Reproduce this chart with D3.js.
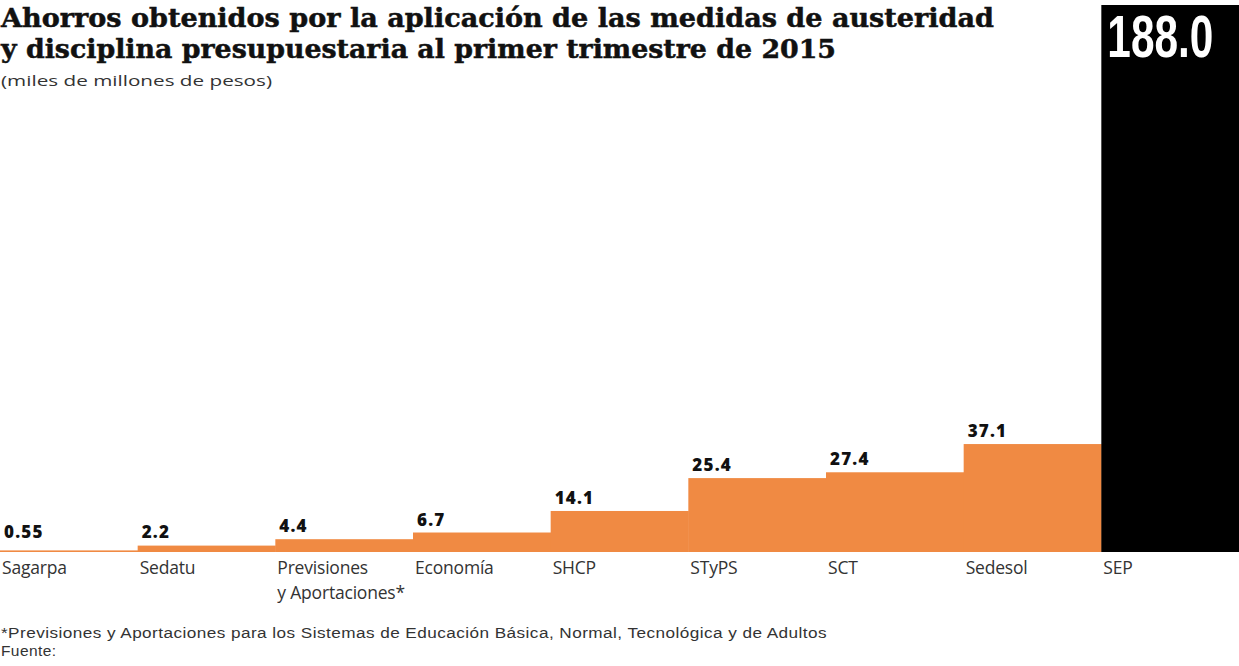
<!DOCTYPE html>
<html><head><meta charset="utf-8">
<script src="https://cdn.jsdelivr.net/npm/d3@7"></script>
<style>html,body{margin:0;padding:0;background:#fff;}svg{display:block;}</style>
</head><body>
<svg id="c" width="1239" height="666"></svg>
<script>
const categories = ["Sagarpa","Sedatu","Previsiones|y Aportaciones*","Economía","SHCP","STyPS","SCT","Sedesol","SEP"];
const values = [0.55, 2.2, 4.4, 6.7, 14.1, 25.4, 27.4, 37.1, 188.0];
const valueLabels = ["0.55","2.2","4.4","6.7","14.1","25.4","27.4","37.1","188.0"];
const titleLines = ["Ahorros obtenidos por la aplicación de las medidas de austeridad","y disciplina presupuestaria al primer trimestre de 2015"];
const subtitle = "(miles de millones de pesos)";
const footnotes = ["*Previsiones y Aportaciones para los Sistemas de Educación Básica, Normal, Tecnológica y de Adultos","Fuente:"];

const W = 1239, H = 666;
const svg = d3.select("#c");
const x = d3.scaleBand().domain(categories).range([0, W]).padding(0);
const y = d3.scaleLinear().domain([0, 188]).range([552, 5]);

// title
svg.selectAll("text.title").data(titleLines).join("text")
  .attr("class","title")
  .attr("x", 1).attr("y", (d,i)=> 27 + i*31)
  .attr("font-family","DejaVu Serif").attr("font-weight","bold").attr("font-size",26)
  .attr("fill","#111").attr("stroke","#111").attr("stroke-width",0.5)
  .attr("textLength",(d,i)=> i===0 ? 993 : 835).attr("lengthAdjust","spacingAndGlyphs")
  .text(d=>d);
svg.append("text").attr("x",1).attr("y",86)
  .attr("font-family","Open Sans").attr("font-size",15).attr("fill","#333")
  .attr("textLength",271).attr("lengthAdjust","spacingAndGlyphs")
  .text(subtitle);

// bars
svg.selectAll("rect.bar").data(categories).join("rect")
  .attr("class","bar")
  .attr("x", d=>x(d)).attr("width", x.bandwidth()+0.5)
  .attr("y", (d,i)=>y(values[i])).attr("height",(d,i)=>y(0)-y(values[i]))
  .attr("fill",(d,i)=> i===8 ? "#000" : "#F08A43");

// value labels
svg.selectAll("text.val").data(categories.slice(0,8)).join("text")
  .attr("class","val")
  .attr("x", d=>x(d)+4).attr("y",(d,i)=>Math.min(y(values[i])-7, 538))
  .attr("font-family","Open Sans").attr("font-weight",800).attr("font-size",17)
  .attr("fill","#111").attr("letter-spacing",1.2)
  .text((d,i)=>valueLabels[i]);
const big = svg.append("text")
  .attr("x",0).attr("y",0)
  .attr("font-family","Liberation Sans").attr("font-weight","bold").attr("font-size",60)
  .attr("fill","#fff")
  .text(valueLabels[8]);
const nat = big.node().getComputedTextLength() || 150;
big.attr("transform",`translate(${x(categories[8])+6},57) scale(${106/nat},1)`);

// category labels
const cl = svg.selectAll("text.cat").data(categories).join("text")
  .attr("class","cat")
  .attr("x", d=>x(d)+2).attr("y",574)
  .attr("font-family","Open Sans").attr("font-size",17.5).attr("fill","#333")
  .attr("letter-spacing",-0.2);
cl.selectAll("tspan").data(d=>d.split("|")).join("tspan")
  .attr("x", function(){return d3.select(this.parentNode).attr("x");})
  .attr("dy",(d,i)=> i===0 ? 0 : 25)
  .text(d=>d);

// footnotes
svg.selectAll("text.foot").data(footnotes).join("text")
  .attr("class","foot")
  .attr("x",1).attr("y",(d,i)=>638+i*18)
  .attr("font-family","Liberation Sans").attr("font-size",15.5).attr("fill","#333")
  .attr("letter-spacing",0.4)
  .each(function(d,i){ if(i===0) d3.select(this).attr("textLength",826).attr("lengthAdjust","spacingAndGlyphs"); })
  .text(d=>d);
</script>
</body></html>
